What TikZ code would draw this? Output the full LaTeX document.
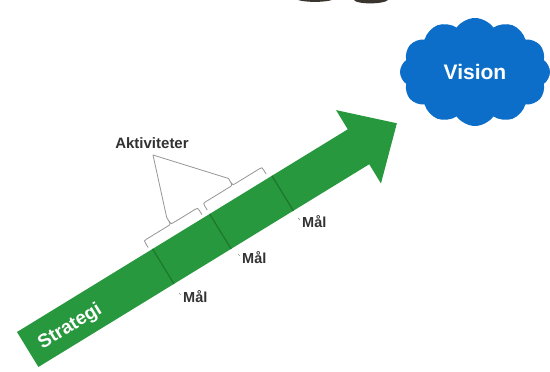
\documentclass[tikz,border=0pt]{standalone}
\usepackage{fontspec}
\setmainfont{Liberation Sans}
\usetikzlibrary{shapes.symbols}
\definecolor{arrowgreen}{RGB}{40,152,62}
\definecolor{divgreen}{RGB}{28,118,44}
\definecolor{visionblue}{RGB}{12,110,200}
\definecolor{bracegray}{RGB}{150,150,150}
\definecolor{labeldark}{RGB}{50,50,50}
\definecolor{fragdark}{RGB}{58,52,46}
\tikzset{
  divider/.style={draw=divgreen, line width=1.2pt},
  bracestyle/.style={draw=bracegray, line width=0.8pt, line join=round},
  fanline/.style={draw=bracegray, line width=0.8pt},
  mallabel/.style={text=labeldark, font=\bfseries\fontsize{14.5}{14.5}\selectfont, inner sep=0pt, anchor=west},
  ticky/.style={draw=bracegray, line width=0.7pt},
}
\begin{document}
\begin{tikzpicture}[x=1pt,y=1pt]
\useasboundingbox (0,0) rectangle (550,372);
\fill[white] (0,0) rectangle (550,372);
% cut-off fragments at the top edge
\fill[fragdark] (298,372) .. controls (306,369.5) and (324,369.5) .. (332,372) -- cycle;
\fill[fragdark] (354,372) .. controls (356,367.5) and (384,367.5) .. (388,372) -- cycle;
% arrow in its own frame
\begin{scope}[shift={(27.7,22.5)},rotate=31.5]
  \fill[arrowgreen] (0,-20.5) -- (388,-20.5) -- (388,-43) -- (433,0) -- (388,43) -- (388,20.5) -- (0,20.5) -- cycle;
  \coordinate (d1t) at (159,20.5); \coordinate (d1b) at (159,-20.5);
  \coordinate (d2t) at (226,20.5); \coordinate (d2b) at (226,-20.5);
  \coordinate (d3t) at (299,20.5); \coordinate (d3b) at (299,-20.5);
  \draw[divider] (d1t) -- (d1b);
  \draw[divider] (d2t) -- (d2b);
  \draw[divider] (d3t) -- (d3b);
  % brace 1
  \draw[bracestyle] (156,24) -- (156,29) .. controls (156,32) .. (159,32) -- (184.5,32) .. controls (187.5,32) .. (187.5,40)
     .. controls (187.5,32) .. (190.5,32) -- (216,32) .. controls (219,32) .. (219,29) -- (219,24);
  % brace 2
  \draw[bracestyle] (226,25) -- (226,30) .. controls (226,33) .. (229,33) -- (257.5,33) .. controls (260.5,33) .. (260.5,41)
     .. controls (260.5,33) .. (263.5,33) -- (292,33) .. controls (295,33) .. (295,30) -- (295,25);
  \coordinate (c1) at (187.5,40);
  \coordinate (c2) at (260.5,41);
  \node[rotate=31.5, text=white, font=\bfseries\fontsize{19}{19}\selectfont, inner sep=0pt] (strat) at (48,-3) {Strategi};
\end{scope}
% labels
\node[text=labeldark, font=\bfseries\fontsize{15}{15}\selectfont, inner sep=0pt] (akt) at (152,229) {Aktiviteter};
\coordinate (fan) at (153,217);
\draw[fanline] (fan) -- (c1);
\draw[fanline] (fan) -- (c2);
\node[mallabel] (m1) at (183,75) {Mål};
\node[mallabel] (m2) at (242,114) {Mål};
\node[mallabel] (m3) at (302,150) {Mål};
\draw[ticky] ([shift={(-4,4)}]m1.west) -- ([shift={(-2,2)}]m1.west);
\draw[ticky] ([shift={(-4,4)}]m2.west) -- ([shift={(-2,2)}]m2.west);
\draw[ticky] ([shift={(-4,4)}]m3.west) -- ([shift={(-2,2)}]m3.west);
% vision cloud
\node[cloud, cloud puffs=12, cloud puff arc=110, aspect=1.4, fill=visionblue, minimum width=150pt, minimum height=108pt, inner sep=0pt, text=white, font=\bfseries\fontsize{21}{21}\selectfont] (vision) at (475,300) {Vision};
\end{tikzpicture}
\end{document}
